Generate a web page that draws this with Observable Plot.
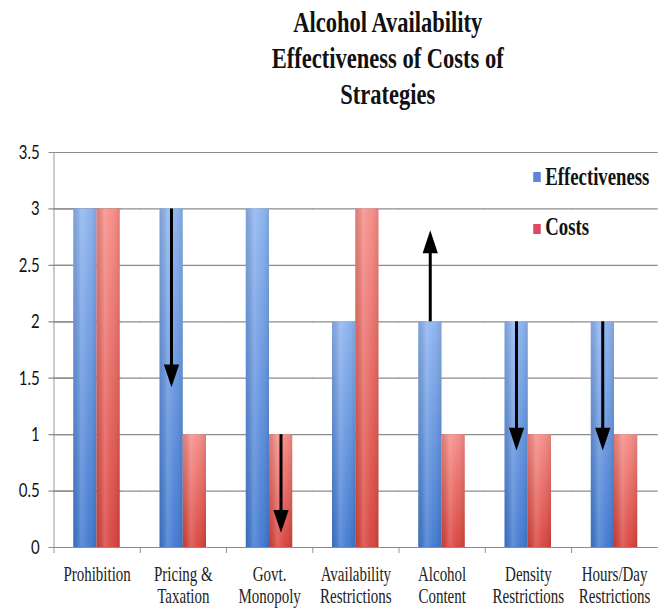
<!DOCTYPE html>
<html><head><meta charset="utf-8">
<script src="https://cdn.jsdelivr.net/npm/d3@7"></script>
<script src="https://cdn.jsdelivr.net/npm/@observablehq/plot@0.6"></script>
<style>
html,body{margin:0;padding:0;background:#fff;overflow:hidden;width:661px;height:611px}
#wrap{position:absolute;left:0;top:0;width:881px;height:611px;transform:scaleX(0.75);transform-origin:0 0}
#title{position:absolute;left:217px;top:4px;width:600px;text-align:center;font-family:"Liberation Serif",serif;font-weight:bold;font-size:30px;line-height:36px;color:#111}
#chart{position:absolute;left:0;top:130px}
.lg{position:absolute;font-family:"Liberation Serif",serif;font-weight:bold;font-size:25px;line-height:30px;color:#111;white-space:nowrap}
.sw{position:absolute;width:10px;height:10px}
</style></head>
<body>
<div id="wrap">
  <div id="title">Alcohol Availability<br>Effectiveness of Costs of<br>Strategies</div>
  <div id="chart"></div>
  <div class="sw" style="left:711px;top:172px;background:#5d85d8"></div>
  <div class="lg" style="left:727px;top:162px">Effectiveness</div>
  <div class="sw" style="left:711px;top:224px;background:#e0485f"></div>
  <div class="lg" style="left:727px;top:212px">Costs</div>
</div>
<script>
const categories = ["Prohibition","Pricing & Taxation","Govt. Monopoly","Availability Restrictions","Alcohol Content","Density Restrictions","Hours/Day Restrictions"];
const categoryLabels = ["Prohibition","Pricing &\nTaxation","Govt.\nMonopoly","Availability\nRestrictions","Alcohol\nContent","Density\nRestrictions","Hours/Day\nRestrictions"];
const series = ["Effectiveness","Costs"];
const effectiveness = [3,3,3,2,2,2,2];
const costs = [3,1,1,3,1,1,1];
const yTicks = [0,0.5,1,1.5,2,2.5,3,3.5];
const yTickLabels = ["0","0.5","1","1.5","2","2.5","3","3.5"];
const arrowCategory = ["Pricing & Taxation","Govt. Monopoly","Alcohol Content","Density Restrictions","Hours/Day Restrictions"];
const arrowSeries = ["Effectiveness","Costs","Effectiveness","Effectiveness","Effectiveness"];
const arrowFrom = [3,1,2,2,2];
const arrowTo = [1.42,0.13,2.81,0.86,0.86];

const rows = categories.flatMap((c,i)=>[
  {category:c, series:"Effectiveness", value:effectiveness[i]},
  {category:c, series:"Costs", value:costs[i]}
]);
const arrows = arrowCategory.map((c,i)=>({category:c, series:arrowSeries[i], from:arrowFrom[i], to:arrowTo[i]}));
const down = arrows.filter(d=>d.to<d.from);
const up = arrows.filter(d=>d.to>d.from);
const bounds = categories.map(c=>({category:c}));
const first = categories[0];

const W = 881, H = 481, mL = 52/0.75, mR = 2;
const step = (W - mL - mR)/7;
const half = 0.22*step;

const downTip = {draw(ctx,size){const s=Math.sqrt(size),h=1.3*s,w=0.58*s;ctx.moveTo(0,0);ctx.lineTo(-w,-h);ctx.lineTo(w,-h);ctx.closePath();}};
const upTip = {draw(ctx,size){const s=Math.sqrt(size),h=1.3*s,w=0.58*s;ctx.moveTo(0,0);ctx.lineTo(-w,h);ctx.lineTo(w,h);ctx.closePath();}};
const grid = "#8c8c8c";

const svg = Plot.plot({
  width: W, height: H, marginLeft: mL, marginRight: mR, marginTop: 22, marginBottom: 64,
  fx: {domain: categories, paddingInner: 0.44, paddingOuter: 0.22, label: null},
  x: {domain: series, padding: 0, axis: null},
  y: {domain: [0, 3.5], axis: null},
  marks: [
    Plot.ruleY(yTicks, {y: d=>d, stroke: grid, strokeWidth: 1.2, insetLeft: -half - 0.5, insetRight: -half - 0.5}),
    Plot.ruleY(yTicks, {fx: ()=>first, y: d=>d, stroke: grid, strokeWidth: 1.2, insetLeft: -half - 7, insetRight: 0}),
    Plot.ruleX([0], {fx: ()=>first, x: ()=>"Effectiveness", y1: ()=>0, y2: ()=>3.5, dx: -0.36*step, stroke: grid, strokeWidth: 1.2}),
    Plot.text(yTicks, {fx: ()=>first, y: d=>d, text: (d,i)=>yTickLabels[i], frameAnchor: "left", textAnchor: "end", dx: -half - 19, fontSize: 20, fontFamily: "Lato", fill: "#111"}),
    Plot.ruleX(bounds, {fx: "category", x: ()=>"Effectiveness", y1: ()=>0, y2: ()=>0, insetBottom: -6, dx: -0.36*step, stroke: grid, strokeWidth: 1.2}),
    Plot.barY(rows.filter(d=>d.series==="Effectiveness"), {fx: "category", x: "series", y: "value", fill: "url(#gBlue)"}),
    Plot.barY(rows.filter(d=>d.series==="Costs"), {fx: "category", x: "series", y: "value", fill: "url(#gRed)"}),
    Plot.barY(rows, {fx: "category", x: "series", y: "value", fill: "url(#gShine)"}),
    Plot.ruleX(down, {fx: "category", x: "series", y1: "from", y2: "to", insetBottom: 10, stroke: "#000", strokeWidth: 4}),
    Plot.ruleX(up, {fx: "category", x: "series", y1: "to", y2: "from", insetTop: 10, stroke: "#000", strokeWidth: 4}),
    Plot.dot(down, {fx: "category", x: "series", y: "to", symbol: downTip, r: 9.9, fill: "#000", stroke: "none"}),
    Plot.dot(up, {fx: "category", x: "series", y: "to", symbol: upTip, r: 9.9, fill: "#000", stroke: "none"}),
    Plot.axisFx({anchor: "bottom", tickSize: 0, tickPadding: 18, tickFormat: d=>categoryLabels[categories.indexOf(d)], fontSize: 20, fontFamily: "Liberation Serif", lineHeight: 1.1, fill: "#222", label: null})
  ]
});
d3.select(svg).insert("defs", ":first-child").html(`
<linearGradient id="gBlue" x1="0" y1="0" x2="0" y2="1">
 <stop offset="0" stop-color="#8cb3ef"/><stop offset="1" stop-color="#3f78d0"/></linearGradient>
<linearGradient id="gRed" x1="0" y1="0" x2="0" y2="1">
 <stop offset="0" stop-color="#f68c86"/><stop offset="1" stop-color="#d8413b"/></linearGradient>
<linearGradient id="gShine" x1="0" y1="0" x2="1" y2="0">
 <stop offset="0" stop-color="#000" stop-opacity="0.10"/>
 <stop offset="0.35" stop-color="#fff" stop-opacity="0.18"/>
 <stop offset="0.65" stop-color="#fff" stop-opacity="0.05"/>
 <stop offset="1" stop-color="#000" stop-opacity="0.10"/></linearGradient>`);
document.getElementById("chart").appendChild(svg);
</script>
</body></html>
